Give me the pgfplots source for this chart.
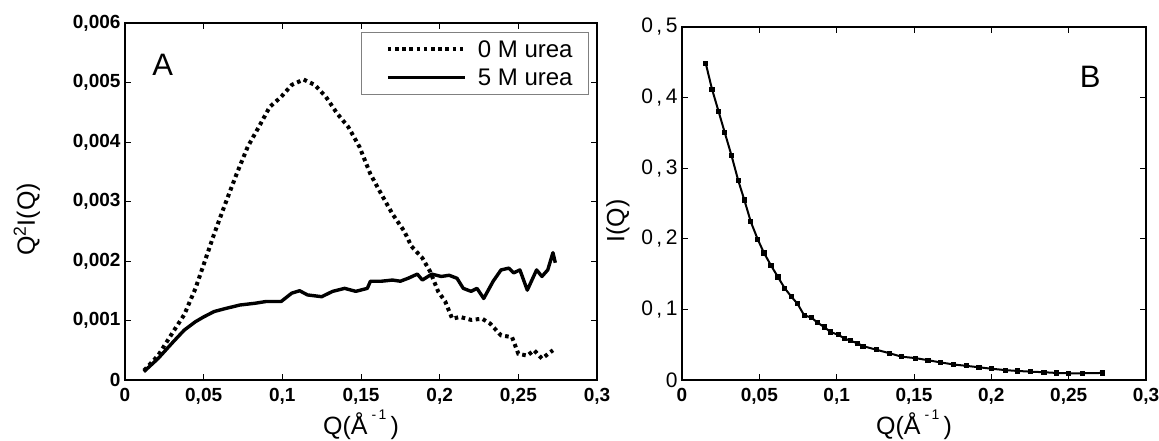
\documentclass[border=0pt]{standalone}
\usepackage{fontspec}
\setmainfont{Liberation Sans}
\usepackage{pgfplots}
\pgfplotsset{compat=1.18}
\begin{document}
\begin{tikzpicture}
\path[use as bounding box] (0pt,0pt) rectangle (1159pt,441pt);
\pgfplotsset{
  panel/.style={
    scale only axis, anchor=south west,
    xmin=0, xmax=0.3, ymin=0,
    axis line style={line width=2.8pt},
    tick align=inside, major tick length=6pt,
    tick style={line width=0.9pt, black},
    scaled ticks=false,
    xtick={0,0.05,0.1,0.15,0.2,0.25,0.3},
    xticklabels={0,{0,05},{0,1},{0,15},{0,2},{0,25},{0,3}},
    xticklabel style={font=\fontsize{19}{21}\selectfont\bfseries, yshift=-5pt},
    xlabel={Q(Å\,\raisebox{0.6em}{\fontsize{14}{15}\selectfont-\,1}\,)},
    xlabel style={font=\fontsize{25}{28}\selectfont, anchor=base},
  }
}
\begin{axis}[panel, at={(125pt,61pt)}, width=472pt, height=357pt, ymax=0.006,
  xlabel style={at={(axis description cs:0.5,-0.152)}},
  ytick={0,0.001,0.002,0.003,0.004,0.005,0.006},
  yticklabels={0,{0,001},{0,002},{0,003},{0,004},{0,005},{0,006}},
  yticklabel style={font=\fontsize{19}{21}\selectfont\bfseries, xshift=-1pt},
  ylabel={Q\textsuperscript{2}I(Q)},
  ylabel style={font=\fontsize{25}{28}\selectfont, at={(axis description cs:-0.208,0.45)}, anchor=center},
  legend style={at={(0.983,0.975)}, anchor=north east, draw=gray, line width=0.8pt,
     font=\fontsize{24}{27}\selectfont, inner xsep=14pt, inner ysep=6pt, row sep=6pt},
  legend cell align=left,
  legend image code/.code={\path (-10pt,0pt) (86pt,0pt); \draw[#1] (0pt,0pt) -- (77pt,0pt);},
]
\addplot[black, line width=4pt, dash pattern=on 3.6pt off 3.6pt] coordinates {
(0.0121,0.00016)(0.021,0.00041)(0.0306,0.00081)(0.0377,0.0011)(0.0448,0.00154)
(0.05,0.00194)(0.0566,0.00245)(0.0637,0.00296)(0.0709,0.00346)(0.078,0.00392)
(0.085,0.00425)(0.092,0.00459)(0.0993,0.00476)(0.106,0.00496)(0.1135,0.00505)
(0.1206,0.00496)(0.1277,0.00476)(0.1348,0.00448)(0.142,0.00425)(0.149,0.00392)
(0.156,0.00346)(0.163,0.00312)(0.170,0.00279)(0.1775,0.0025)(0.182,0.00225)
(0.189,0.00205)(0.194,0.00182)(0.199,0.00149)(0.2035,0.00132)(0.208,0.00103)
(0.213,0.00106)(0.220,0.00101)(0.227,0.00103)(0.232,0.00095)(0.239,0.00075)
(0.246,0.00072)(0.250,0.00044)(0.2557,0.00041)(0.26,0.0005)(0.265,0.00036)(0.272,0.0005)
};
\addlegendentry{0 M urea}
\addplot[black, line width=3.4pt, line join=round] coordinates {
(0.012,0.00014)(0.021,0.00036)(0.0306,0.00064)(0.0377,0.00084)(0.0448,0.00098)
(0.05,0.00106)(0.0566,0.00115)(0.0637,0.0012)(0.073,0.00126)(0.0827,0.00129)
(0.0898,0.00132)(0.0993,0.00132)(0.106,0.00146)(0.111,0.0015)(0.116,0.00143)
(0.125,0.0014)(0.132,0.00149)(0.1396,0.00154)(0.1467,0.00149)(0.154,0.00154)
(0.156,0.00166)(0.163,0.00166)(0.170,0.00168)(0.175,0.00166)(0.180,0.00171)
(0.1858,0.00178)(0.189,0.00168)(0.195,0.00178)(0.201,0.00174)(0.206,0.00176)
(0.211,0.00171)(0.215,0.00154)(0.220,0.00149)(0.2237,0.00154)(0.228,0.00137)
(0.234,0.00166)(0.239,0.00185)(0.244,0.00188)(0.247,0.0018)(0.251,0.00185)
(0.2557,0.00151)(0.2616,0.00185)(0.265,0.00174)(0.2687,0.00185)(0.272,0.00214)(0.2735,0.00197)
};
\addlegendentry{5 M urea}
\node[font=\fontsize{31}{34}\selectfont] at (rel axis cs:0.08,0.882) {A};
\end{axis}
\begin{axis}[panel, at={(682pt,61pt)}, width=464pt, height=353pt, ymax=0.5,
  xlabel style={at={(axis description cs:0.5,-0.154)}},
  ytick={0,0.1,0.2,0.3,0.4,0.5},
  yticklabels={0,{0\,,\,1},{0\,,\,2},{0\,,\,3},{0\,,\,4},{0\,,\,5}},
  yticklabel style={font=\fontsize{21}{23}\selectfont, xshift=-1pt},
  ylabel={I(Q)},
  ylabel style={font=\fontsize{25}{28}\selectfont, at={(axis description cs:-0.138,0.45)}, anchor=center},
]
\addplot[black, line width=2pt, mark=square*, mark size=1.6pt, mark options={solid}] coordinates {
(0.0154,0.448)(0.0194,0.412)(0.0237,0.380)(0.0277,0.350)(0.032,0.318)(0.0363,0.283)
(0.0403,0.255)(0.0445,0.224)(0.049,0.199)(0.053,0.180)(0.0576,0.162)(0.062,0.146)
(0.0664,0.130)(0.0707,0.118)(0.0747,0.108)(0.079,0.0915)(0.0836,0.0886)(0.0874,0.0815)
(0.092,0.075)(0.096,0.068)(0.101,0.064)(0.105,0.059)(0.109,0.0555)(0.1135,0.052)
(0.117,0.048)(0.126,0.0427)(0.134,0.038)(0.142,0.033)(0.151,0.031)(0.159,0.028)
(0.167,0.025)(0.1755,0.022)(0.184,0.020)(0.192,0.018)(0.200,0.016)(0.209,0.014)
(0.217,0.0128)(0.2255,0.0118)(0.234,0.011)(0.242,0.010)(0.25,0.0095)(0.2588,0.0095)(0.272,0.010)
};
\node[font=\fontsize{31}{34}\selectfont] at (rel axis cs:0.88,0.858) {B};
\end{axis}
\end{tikzpicture}
\end{document}
